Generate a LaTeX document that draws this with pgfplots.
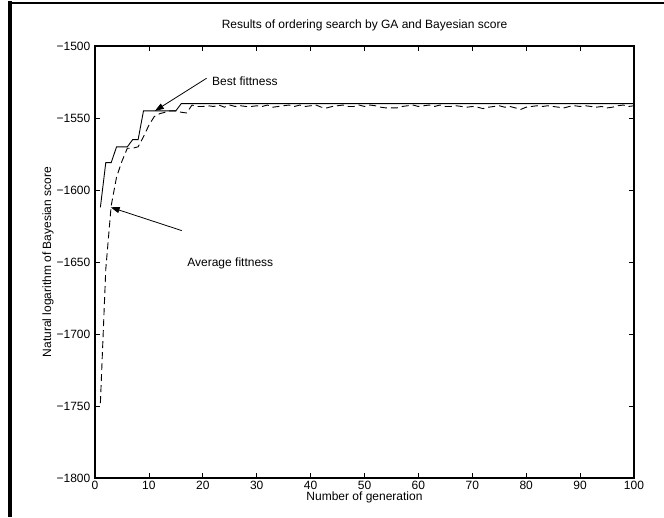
\documentclass[border=0pt]{standalone}
\usepackage{fontspec}
\setmainfont{Liberation Sans}
\usepackage{pgfplots}
\pgfplotsset{compat=1.18}
\usetikzlibrary{arrows.meta}

% best and average fitness per generation
\pgfplotstableread{
gen best avg
1 -1612 -1748
2 -1581 -1655
3 -1581 -1611
4 -1570 -1591
5 -1570 -1580
6 -1570 -1571
7 -1565 -1571
8 -1565 -1570
9 -1545 -1563
10 -1545 -1555
11 -1545 -1549
12 -1545 -1547
13 -1545 -1546
14 -1545 -1545
15 -1545 -1545
16 -1540 -1546
17 -1540 -1546.5
18 -1540 -1541
19 -1540 -1542
20 -1540 -1542
21 -1540 -1541.5
22 -1540 -1542
23 -1540 -1541
24 -1540 -1542.5
25 -1540 -1541
26 -1540 -1542
27 -1540 -1541.5
28 -1540 -1542
29 -1540 -1542
30 -1540 -1541.5
31 -1540 -1542
32 -1540 -1541
33 -1540 -1542.5
34 -1540 -1542
35 -1540 -1541.5
36 -1540 -1541
37 -1540 -1542
38 -1540 -1541
39 -1540 -1542
40 -1540 -1541.5
41 -1540 -1541
42 -1540 -1542.5
43 -1540 -1543
44 -1540 -1542
45 -1540 -1541.5
46 -1540 -1541
47 -1540 -1542
48 -1540 -1542
49 -1540 -1541
50 -1540 -1542
51 -1540 -1541
52 -1540 -1541.5
53 -1540 -1542.5
54 -1540 -1543
55 -1540 -1543
56 -1540 -1543
57 -1540 -1542
58 -1540 -1541.5
59 -1540 -1541
60 -1540 -1542
61 -1540 -1541.5
62 -1540 -1541
63 -1540 -1542
64 -1540 -1541
65 -1540 -1542
66 -1540 -1542
67 -1540 -1541.5
68 -1540 -1542
69 -1540 -1542.5
70 -1540 -1542
71 -1540 -1542.5
72 -1540 -1543.5
73 -1540 -1542.5
74 -1540 -1542
75 -1540 -1541.5
76 -1540 -1542.5
77 -1540 -1542
78 -1540 -1543
79 -1540 -1544
80 -1540 -1542.5
81 -1540 -1542
82 -1540 -1541.5
83 -1540 -1542
84 -1540 -1541.5
85 -1540 -1542
86 -1540 -1542.5
87 -1540 -1543
88 -1540 -1542
89 -1540 -1541.5
90 -1540 -1542
91 -1540 -1541.5
92 -1540 -1542
93 -1540 -1542.5
94 -1540 -1542
95 -1540 -1543
96 -1540 -1542.5
97 -1540 -1541.5
98 -1540 -1541
99 -1540 -1542
100 -1540 -1541.5
}\fitness

\begin{document}
\begin{tikzpicture}[x=1pt,y=1pt]
\useasboundingbox (0,0) rectangle (664,517);
% page frame
\draw[line width=3.5pt] (10,0) -- (10,515.5);
\draw[line width=2pt] (8.25,513.5) -- (664,513.5);
\begin{axis}[
    at={(95pt,39pt)}, anchor=south west,
    scale only axis, width=539pt, height=432pt,
    xmin=0, xmax=100, ymin=-1800, ymax=-1500,
    xtick={0,10,...,100},
    ytick={-1800,-1750,-1700,-1650,-1600,-1550,-1500},
    yticklabels={−1800,−1750,−1700,−1650,−1600,−1550,−1500},
    tick align=inside,
    major tick length=5pt,
    every tick/.style={black, line width=0.8pt},
    axis line style={line width=1.3pt},
    font=\fontsize{12}{14}\selectfont,
    /pgf/number format/assume math mode=true,
    xticklabel style={anchor=north, inner sep=0pt, yshift=-3pt, text depth=0pt},
    yticklabel style={anchor=east, inner sep=0pt, xshift=-4.5pt},
    title={Results of ordering search by GA and Bayesian score},
    title style={yshift=5pt},
    xlabel={Number of generation},
    xlabel style={at={(axis description cs:0.5,0)}, anchor=north, inner sep=0pt, yshift=-14pt},
    ylabel={Natural logarithm of Bayesian score},
    ylabel style={at={(axis description cs:-0.0872,0.5)}, anchor=center, inner sep=0pt},
    clip=false,
]
\addplot[black, line width=0.9pt] table[x=gen, y=best] {\fitness};
\addplot[black, line width=0.9pt, dash pattern=on 7pt off 4pt] table[x=gen, y=avg] {\fitness};
\draw[line width=0.8pt, -{Triangle[length=9pt,width=6pt]}] (axis cs:20.7,-1522.4) -- (axis cs:11.1,-1545.1);
\draw[line width=0.8pt, -{Triangle[length=9pt,width=6pt]}] (axis cs:16.1,-1628.2) -- (axis cs:2.9,-1612);
\node[anchor=west, inner sep=0pt] at (axis cs:21.7,-1524.3) {Best fittness};
\node[anchor=west, inner sep=0pt] at (axis cs:17.1,-1650.7) {Average fittness};
\end{axis}
\end{tikzpicture}
\end{document}
